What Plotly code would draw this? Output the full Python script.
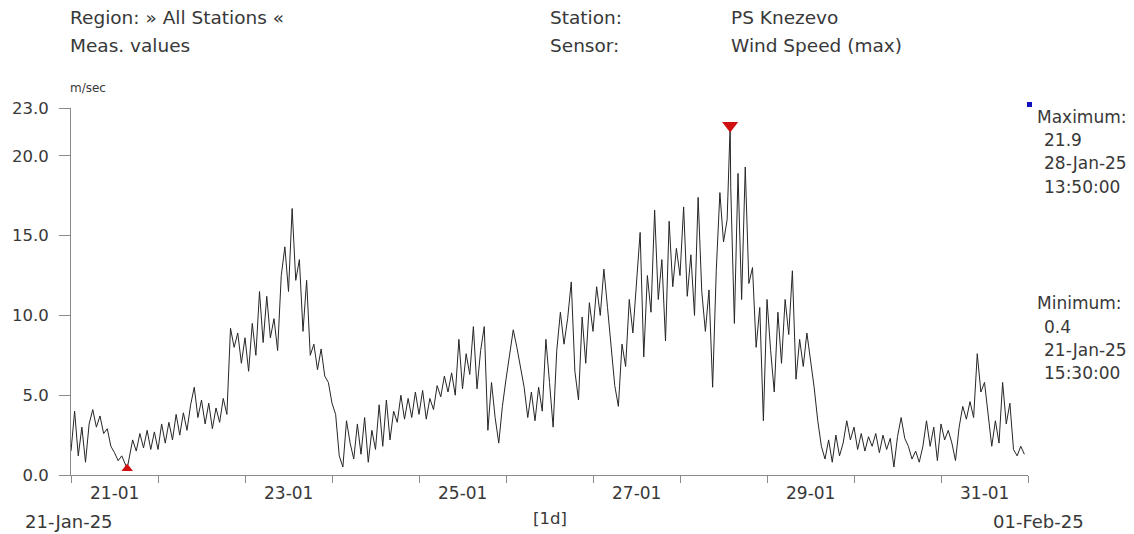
import pandas as pd
import plotly.graph_objects as go

# Hourly readings (m/sec), one list per day
jan21 = [1.5, 4.0, 1.2, 3.0, 0.8, 3.2, 4.1, 3.0, 3.7, 2.6, 2.9, 1.8, 1.4, 0.9, 1.2, 0.7, 1.0, 2.2, 1.5, 2.6, 1.7, 2.8, 1.6, 2.7]
jan22 = [1.6, 3.2, 2.0, 3.3, 2.2, 3.8, 2.5, 3.9, 2.8, 4.4, 5.5, 3.6, 4.7, 3.2, 4.5, 2.9, 4.2, 3.3, 4.8, 3.8, 9.2, 8.0, 8.9, 7.0]
jan23 = [8.6, 6.5, 9.5, 7.5, 11.5, 8.3, 11.2, 8.6, 9.8, 7.8, 12.5, 14.3, 11.5, 16.7, 12.2, 13.5, 9.0, 12.2, 7.5, 8.2, 6.6, 7.9, 6.2, 5.8]
jan24 = [4.5, 3.8, 1.2, 0.5, 3.4, 2.0, 1.0, 3.2, 1.3, 3.6, 0.8, 2.8, 1.6, 4.4, 1.8, 4.7, 2.2, 4.0, 3.3, 5.0, 3.5, 4.8, 3.6, 5.2]
jan25 = [3.8, 5.3, 3.5, 4.8, 4.1, 5.6, 4.9, 6.2, 5.2, 6.4, 5.0, 8.5, 5.4, 7.6, 6.3, 9.3, 5.4, 7.8, 9.3, 2.8, 5.8, 3.6, 2.0, 4.3]
jan26 = [6.0, 7.5, 9.1, 8.0, 6.8, 5.5, 3.6, 5.2, 3.4, 5.5, 4.0, 8.5, 5.8, 3.0, 7.8, 10.2, 8.2, 9.8, 12.1, 6.5, 4.7, 9.9, 7.0, 10.8]
jan27 = [9.0, 11.8, 10.0, 12.9, 10.5, 8.0, 5.6, 4.3, 8.2, 6.8, 11.0, 8.9, 12.4, 15.2, 7.4, 12.5, 10.2, 16.6, 11.0, 13.5, 8.4, 15.9, 11.8, 14.2]
jan28 = [12.5, 16.8, 11.2, 13.8, 10.0, 17.4, 11.5, 9.0, 11.6, 5.5, 12.8, 17.7, 14.6, 16.0, 18.0, 9.5, 18.9, 11.0, 19.3, 12.0, 13.0, 8.0, 10.5, 3.4]
jan29 = [11.0, 7.8, 5.2, 10.2, 7.0, 11.0, 8.8, 12.8, 6.0, 8.5, 6.8, 8.9, 7.2, 5.5, 3.4, 1.8, 1.0, 2.2, 0.8, 2.5, 1.2, 2.0, 3.4, 2.2]
jan30 = [3.0, 1.6, 2.6, 1.5, 2.4, 1.8, 2.6, 1.4, 2.5, 1.6, 2.3, 0.5, 2.4, 3.6, 2.3, 1.8, 1.0, 1.5, 0.8, 1.8, 3.4, 1.8, 3.0, 0.9]
jan31 = [3.2, 2.2, 2.8, 2.0, 0.9, 3.0, 4.3, 3.5, 4.6, 3.6, 7.6, 5.2, 5.8, 3.8, 1.8, 3.4, 2.0, 5.8, 3.2, 4.5, 1.6, 1.2, 1.8, 1.3]

# Extreme readings reported by the chart
extreme_times = ["2025-01-28 13:50", "2025-01-21 15:30"]
extreme_values = [21.9, 0.4]

y_tick_values = [0, 5, 10, 15, 20, 23]
day_labels = ["21-01", "23-01", "25-01", "27-01", "29-01", "31-01"]
day_label_dates = ["2025-01-21 12:00", "2025-01-23 12:00", "2025-01-25 12:00",
                   "2025-01-27 12:00", "2025-01-29 12:00", "2025-01-31 12:00"]

hourly = jan21 + jan22 + jan23 + jan24 + jan25 + jan26 + jan27 + jan28 + jan29 + jan30 + jan31
times = pd.date_range("2025-01-21 00:00", periods=len(hourly), freq="h")
s = pd.Series(hourly, index=times)
s = pd.concat([s, pd.Series(extreme_values, index=pd.to_datetime(extreme_times))]).sort_index()

imax = s.idxmax()
imin = s.idxmin()

fig = go.Figure()
fig.add_trace(go.Scatter(x=s.index, y=s.values, mode="lines",
                         line=dict(color="#262626", width=1), showlegend=False))
fig.add_trace(go.Scatter(x=[imax], y=[s[imax]], mode="markers",
                         marker=dict(symbol="triangle-down", size=14, color="#d01010"),
                         cliponaxis=False, showlegend=False))
fig.add_trace(go.Scatter(x=[imin], y=[s[imin]], mode="markers",
                         marker=dict(symbol="triangle-up", size=10, color="#d01010"),
                         cliponaxis=False, showlegend=False))

L, R, T, B = 69, 1028, 108, 475
W, H = 1134, 534

def px(x):
    return (x - L) / (R - L)

def py(y):
    return (B - y) / (B - T)

font = "DejaVu Sans, Verdana, sans-serif"
txt = "#383838"
ann = []

def add(x, y, text, size=17, xanchor="left"):
    ann.append(dict(x=px(x), y=py(y), xref="paper", yref="paper", text=text, showarrow=False,
                    xanchor=xanchor, yanchor="middle", font=dict(family=font, size=size, color=txt)))

add(66, 18, "Region: » All Stations «", size=18.5)
add(66, 45, "Meas. values", size=18.5)
add(547, 18, "Station:", size=18.5)
add(547, 45, "Sensor:", size=18.5)
add(728, 18, "PS Knezevo", size=18.5)
add(728, 45, "Wind Speed (max)", size=18.5)
add(66, 88, "m/sec", size=12)

add(1035, 117, "Maximum:")
add(1042, 140, f"{s[imax]:.1f}")
add(1042, 163, imax.strftime("%d-%b-%y"))
add(1042, 187, imax.strftime("%H:%M:%S"))
add(1035, 303, "Minimum:")
add(1042, 327, f"{s[imin]:.1f}")
add(1042, 350, imin.strftime("%d-%b-%y"))
add(1042, 373, imin.strftime("%H:%M:%S"))

add(21, 521, times[0].strftime("%d-%b-%y"), size=18)
add(549, 518, "[1d]", size=16.5, xanchor="center")
add(1086, 521, (times[-1] + pd.Timedelta(hours=1)).strftime("%d-%b-%y"), size=18, xanchor="right")

for d, lab in zip(day_label_dates, day_labels):
    ann.append(dict(x=d, y=py(493), xref="x", yref="paper", text=lab, showarrow=False,
                    xanchor="center", yanchor="middle", font=dict(family=font, size=17, color=txt)))

day_ticks = pd.date_range("2025-01-21", "2025-02-01", freq="D")

fig.update_layout(
    width=W, height=H,
    margin=dict(l=L, r=W - R, t=T, b=H - B, pad=0),
    paper_bgcolor="white", plot_bgcolor="white",
    annotations=ann,
    shapes=[dict(type="rect", xref="paper", yref="paper",
                 x0=px(1027), x1=px(1032), y0=py(107), y1=py(102),
                 fillcolor="#1010c0", line=dict(width=0))],
    xaxis=dict(range=["2025-01-21 00:00", "2025-02-01 00:00"], showgrid=False, zeroline=False,
               showline=True, linecolor="#8a8a8a", linewidth=1,
               tickvals=list(day_ticks), ticktext=[""] * len(day_ticks),
               ticks="outside", ticklen=7, tickcolor="#8a8a8a"),
    yaxis=dict(range=[0, 23], showgrid=False, zeroline=False,
               showline=True, linecolor="#8a8a8a", linewidth=1,
               tickvals=y_tick_values, tickformat=".1f",
               ticks="outside", ticklen=11, tickcolor="#8a8a8a",
               ticklabelstandoff=7,
               tickfont=dict(family=font, size=16.5, color=txt)),
    hovermode=False,
)

fig.write_html("out.html", config={"displayModeBar": False},
               post_script="document.body.style.margin='0';document.documentElement.style.overflow='hidden';")
